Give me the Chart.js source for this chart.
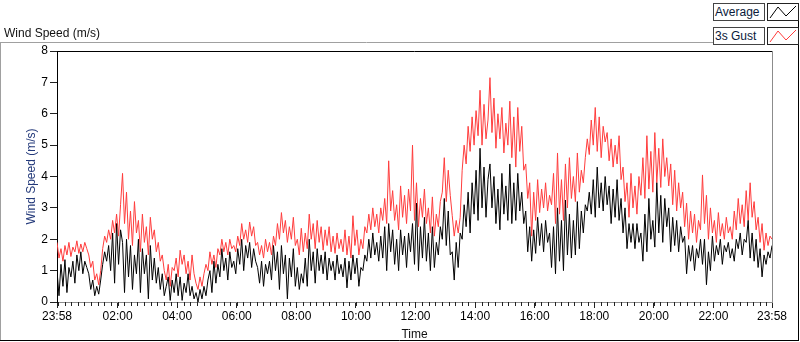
<!DOCTYPE html>
<html>
<head>
<meta charset="utf-8">
<script src="https://cdn.jsdelivr.net/npm/chart.js@4/dist/chart.umd.min.js"></script>
<style>
  html, body { margin: 0; padding: 0; background: #fff; }
  #wrap { position: relative; width: 800px; height: 342px; overflow: hidden; font-family: "Liberation Sans", Arial, sans-serif; }
  #c { position: absolute; left: 0; top: 0; }
  .panelTitle { position: absolute; left: 4px; top: 26px; font-size: 12px; color: #111; white-space: nowrap; }
  .lgBox { position: absolute; left: 713px; width: 49px; height: 16px; border: 1px solid #444; background: #fff; font-size: 12px; line-height: 16px; color: #0a1a3a; padding-left: 1px; box-sizing: content-box; white-space: nowrap; }
  .lgSw { position: absolute; left: 767px; width: 30px; height: 16px; border: 1px solid #222; background: #fff; }
</style>
</head>
<body>
<div id="wrap">
  <canvas id="c" width="800" height="342"></canvas>
  <div class="panelTitle">Wind Speed (m/s)</div>
  <div class="lgBox" style="top:3px;">Average</div>
  <div class="lgSw" style="top:3px;"><svg width="30" height="16"><polyline points="2,14 10,3 18,12 28,2" fill="none" stroke="#000" stroke-width="1"/></svg></div>
  <div class="lgBox" style="top:27px;">3s Gust</div>
  <div class="lgSw" style="top:27px;"><svg width="30" height="16"><polyline points="2,14 10,3 18,12 28,2" fill="none" stroke="#ff3c3c" stroke-width="1"/></svg></div>
</div>
<script>
// ---- data ----
const SAMPLE_MINUTES = 4;            // one sample every 4 minutes from 23:58
const tickMinutes = [0, 122, 242, 362, 482, 602, 722, 842, 962, 1082, 1202, 1322, 1440];
const tickLabels = ['23:58', '02:00', '04:00', '06:00', '08:00', '10:00', '12:00', '14:00', '16:00', '18:00', '20:00', '22:00', '23:58'];
const yTicks = [0, 1, 2, 3, 4, 5, 6, 7, 8];

const gust = [
  1.9, 1.4, 1.7, 1.3, 1.8, 1.5, 1.9, 1.45, 1.75, 1.6,
  1.95, 1.55, 1.85, 1.6, 1.9, 1.7, 1.5, 1.1, 1.3, 0.7,
  0.9, 0.55, 1.0, 1.7, 2.1, 1.9, 2.3, 2.0, 2.6, 2.2,
  2.8, 2.1, 3.1, 4.1, 2.5, 3.5, 2.0, 2.9, 1.8, 3.2,
  2.2, 2.6, 1.6, 2.8, 1.9, 2.4, 1.5, 2.7, 2.0, 2.3,
  1.6, 1.9, 1.3, 1.5, 1.0, 0.7, 1.2, 0.5, 1.1, 1.0,
  1.4, 0.8, 1.65, 1.2, 1.5, 0.9, 1.3, 0.7, 1.5, 0.9,
  0.6, 0.4, 0.8, 0.5, 0.9, 1.2, 1.0, 1.6, 1.2, 1.5,
  1.1, 1.7, 1.5, 2.0, 1.6, 1.9, 1.5, 2.0, 1.7, 1.8,
  1.6, 2.1, 1.8, 2.5, 2.0, 2.3, 1.9, 2.55, 2.1, 2.4,
  1.8, 1.9, 1.5, 1.8, 1.4, 2.0, 1.6, 1.9, 1.5, 2.1,
  1.8, 2.5, 2.0, 2.85, 2.2, 2.6, 1.9, 2.4, 2.0, 2.7,
  1.8, 2.0, 1.5, 2.35, 1.6, 2.2, 1.7, 2.8, 2.0, 2.5,
  1.7, 2.6, 1.9, 2.4, 1.65, 2.3, 1.8, 2.4, 1.6, 2.1,
  1.55, 2.2, 1.7, 2.0, 1.6, 2.3, 1.5, 2.1, 1.4, 2.75,
  1.8, 2.3, 1.5, 2.0, 1.7, 2.4, 2.2, 2.8, 2.3, 3.0,
  2.4, 2.8, 2.2, 3.0, 2.6, 3.3, 2.5, 4.5, 2.9, 3.55,
  2.6, 3.1, 2.3, 3.7, 2.7, 3.4, 2.5, 3.6, 2.9, 5.0,
  2.6, 3.8, 2.4, 3.3, 2.7, 3.6, 2.5, 3.0, 2.2, 3.35,
  2.1, 2.8, 2.4, 3.2, 3.5, 4.6, 3.2, 4.2, 3.4, 2.75,
  2.1, 2.6, 2.2, 2.7, 4.2, 5.0, 4.4, 5.6, 4.8, 5.9,
  5.0, 6.1, 5.3, 6.75, 5.0, 6.3, 5.2, 5.8, 7.15, 5.4,
  6.5, 4.9, 6.0, 5.2, 6.2, 4.75, 5.7, 5.0, 6.4, 4.6,
  5.9, 4.3, 6.2, 4.8, 5.6, 4.2, 4.4, 3.3, 3.8, 2.1,
  3.5, 2.6, 3.9, 2.85, 3.6, 3.0, 3.8, 2.9, 3.4, 3.1,
  4.1, 2.5, 4.75, 2.8, 3.9, 2.6, 4.4, 3.0, 4.6, 3.3,
  4.0, 3.2, 4.75, 3.5, 4.2, 3.8, 4.6, 5.2, 4.7, 5.8,
  5.0, 6.2, 4.8, 5.9, 4.6, 5.6, 5.1, 5.4, 4.5, 5.2,
  4.3, 5.0, 4.4, 5.3, 3.9, 4.3, 3.2, 3.8, 2.7, 4.1,
  3.0, 3.7, 2.8, 4.0, 3.4, 4.6, 3.3, 5.3, 3.6, 4.8,
  3.5, 5.4, 3.8, 4.9, 3.65, 5.2, 4.0, 4.6, 3.7, 4.4,
  3.1, 4.2, 2.9, 3.8, 3.0, 3.5, 2.4, 3.15, 2.0, 2.9,
  2.2, 2.8, 1.9, 2.6, 2.3, 4.05, 2.5, 3.4, 2.0, 3.0,
  2.2, 2.6, 1.9, 2.85, 2.1, 2.5, 2.0, 2.7, 2.2, 2.4,
  2.0, 2.9, 2.3, 3.3, 2.5, 3.1, 2.4, 3.55, 2.6, 3.8,
  2.7, 3.2, 2.3, 2.7, 1.9, 2.5, 1.65, 2.2, 1.8, 2.1,
  2.0
];

const average = [
  1.0, 0.2, 1.2, 0.5, 1.35, 0.3, 1.1, 0.8, 1.3, 0.6,
  1.5, 1.0, 1.6, 0.9, 1.3, 1.1, 0.9, 0.4, 0.7, 0.2,
  0.5, 0.25, 0.7, 1.2, 1.6, 1.3, 1.8, 1.0, 2.2, 0.6,
  2.5, 1.2, 2.3, 1.9, 0.3, 2.0, 0.8, 1.8, 0.4, 1.5,
  0.9, 2.0, 0.3, 1.7, 0.9, 1.5, 0.1, 1.8, 0.7, 1.4,
  0.6, 1.1, 0.4, 0.9, 0.2, 0.5, 0.8, 0.05, 0.7, 0.3,
  0.9, 0.2, 0.8, 0.05, 0.6, 0.3, 0.9, 0.2, 0.5, 0.1,
  0.3, 0.0, 0.4, 0.1, 0.5, 0.2, 0.7, 1.0, 0.3, 1.3,
  0.6, 1.2, 0.8, 1.7, 1.0, 1.4, 0.7, 1.6, 1.1, 1.3,
  0.9, 1.7, 1.2, 2.0, 1.0, 1.8, 1.4, 1.9, 1.1, 1.7,
  1.3, 1.1, 0.6, 1.3, 0.5, 1.2, 0.9, 1.3, 0.7, 1.8,
  1.0, 1.6, 0.4, 1.8, 0.9, 1.5, 0.1, 1.4, 0.8, 1.7,
  0.5, 1.1, 0.4, 0.9, 0.6, 1.4, 0.5, 2.0, 1.0, 1.6,
  0.6, 1.7, 1.0, 1.5, 0.9, 1.6, 0.7, 1.4, 1.0, 1.3,
  0.7, 1.5, 0.9, 1.2, 0.8, 1.4, 0.45, 1.3, 0.7, 1.5,
  0.9, 1.4, 0.5, 1.1, 1.0, 1.5, 1.3, 2.0, 1.4, 2.2,
  1.5, 1.9, 1.3, 2.1, 1.4, 2.4, 1.0, 2.5, 1.6, 2.3,
  1.2, 2.0, 1.0, 2.3, 1.5, 2.1, 1.1, 2.2, 1.6, 2.5,
  1.2, 3.15, 1.0, 2.4, 1.4, 2.7, 1.3, 2.2, 1.0, 2.4,
  1.1, 1.9, 1.5, 2.4, 2.0, 3.3, 1.8, 2.9, 1.5, 1.6,
  0.7, 1.9, 1.1, 2.2, 2.0, 3.1, 2.4, 3.5, 2.2, 3.8,
  2.8, 4.2, 2.6, 4.9, 3.0, 4.3, 2.7, 3.9, 4.4, 3.0,
  4.0, 2.5, 3.6, 2.3, 4.1, 2.8, 3.7, 2.6, 4.4, 2.5,
  3.8, 2.6, 4.1, 2.9, 3.5, 2.5, 2.9, 1.6, 2.4, 1.3,
  2.3, 1.55, 2.7, 1.8, 2.5, 1.6, 2.6, 1.9, 2.2, 1.1,
  2.4, 0.9, 3.0, 1.3, 2.6, 1.0, 3.25, 1.5, 2.8, 1.4,
  2.6, 1.5, 3.2, 1.7, 2.9, 2.2, 3.1, 2.9, 3.5, 2.8,
  3.9, 2.7, 4.3, 3.0, 3.8, 2.9, 4.0, 3.1, 3.7, 2.5,
  3.6, 2.7, 3.9, 2.6, 3.3, 2.2, 3.0, 1.7, 2.5, 1.9,
  2.5, 1.7, 2.5, 1.9, 2.2, 1.3, 2.8, 1.6, 3.3, 2.0,
  2.6, 1.75, 3.8, 2.2, 3.4, 1.9, 3.3, 2.4, 3.0, 1.6,
  2.7, 1.8, 2.6, 1.6, 2.4, 1.9, 2.1, 0.9, 1.8, 1.3,
  1.8, 1.0, 1.7, 1.4, 2.0, 1.2, 2.0, 0.55, 1.6, 1.0,
  2.1, 1.3, 1.8, 1.5, 2.0, 1.2, 1.8, 1.6, 1.9, 1.4,
  1.7, 1.3, 2.0, 1.7, 2.2, 1.5, 2.0, 1.9, 2.6, 1.4,
  2.2, 1.3, 2.0, 1.1, 1.7, 0.8, 1.5, 1.2, 1.6, 1.4,
  1.8
];

// ---- chart ----
Chart.defaults.font.family = '"Liberation Sans", Arial, sans-serif';
Chart.defaults.font.size = 12;
Chart.defaults.color = '#000';

const toPoints = arr => arr.map((v, i) => ({ x: i * SAMPLE_MINUTES, y: v }));

const framePlugin = {
  id: 'frame',
  beforeDraw(chart) {
    const c = chart.ctx;
    c.save();
    c.lineWidth = 1;
    c.strokeStyle = '#a0a0a0';
    c.beginPath(); c.moveTo(0, 42.5); c.lineTo(733, 42.5); c.stroke();
    c.beginPath(); c.moveTo(0.5, 42); c.lineTo(0.5, 341); c.stroke();
    c.strokeStyle = '#000';
    c.beginPath(); c.moveTo(0, 340.5); c.lineTo(799, 340.5); c.stroke();
    c.beginPath(); c.moveTo(798.5, 20); c.lineTo(798.5, 341); c.stroke();
    c.restore();
  },
  afterDraw(chart) {
    const c = chart.ctx, a = chart.chartArea, xs = chart.scales.x;
    c.save();
    c.lineWidth = 1;
    c.strokeStyle = '#000';
    c.beginPath(); c.moveTo(a.left, Math.floor(a.top) + 0.5); c.lineTo(a.right, Math.floor(a.top) + 0.5); c.stroke();
    c.strokeStyle = '#8c8c8c';
    c.beginPath(); c.moveTo(Math.floor(a.right) + 0.5, a.top); c.lineTo(Math.floor(a.right) + 0.5, a.bottom); c.stroke();
    c.strokeStyle = '#222';
    for (let k = 0; ; k++) {
      const t = 2 + k * 40 / 3;
      if (t > 1440) break;
      const px = Math.round(xs.getPixelForValue(t)) + 0.5;
      c.beginPath(); c.moveTo(px, a.bottom); c.lineTo(px, a.bottom + 4); c.stroke();
    }
    c.restore();
  }
};

new Chart(document.getElementById('c'), {
  type: 'line',
  data: {
    datasets: [
      { label: 'Average', data: toPoints(average), borderColor: '#000000', borderWidth: 1, pointRadius: 0, tension: 0, fill: false },
      { label: '3s Gust', data: toPoints(gust), borderColor: '#ff3c3c', borderWidth: 1, pointRadius: 0, tension: 0, fill: false }
    ]
  },
  options: {
    responsive: false,
    animation: false,
    devicePixelRatio: 1,
    layout: { padding: { top: 51, right: 28, left: 0, bottom: 0 } },
    plugins: { legend: { display: false }, tooltip: { enabled: false }, title: { display: false } },
    scales: {
      x: {
        type: 'linear', min: 0, max: 1440,
        afterBuildTicks: s => { s.ticks = tickMinutes.map(v => ({ value: v })); },
        afterFit: s => { s.height = 40; },
        ticks: { autoSkip: false, maxRotation: 0, padding: 1, color: '#000', callback: (v, i) => tickLabels[i] },
        grid: { drawOnChartArea: false, tickLength: 6, color: '#222' },
        border: { color: '#8c8c8c' },
        title: { display: true, text: 'Time', color: '#111', padding: { top: 0, bottom: 0 } }
      },
      y: {
        min: 0, max: 8,
        afterBuildTicks: s => { s.ticks = yTicks.map(v => ({ value: v })); },
        afterFit: s => { s.width = 57; },
        ticks: { padding: 2, color: '#000' },
        grid: { drawOnChartArea: false, tickLength: 7, color: '#222' },
        border: { color: '#000' },
        title: { display: true, text: 'Wind Speed (m/s)', color: '#23397a', padding: { top: 24, bottom: 0 } }
      }
    }
  },
  plugins: [framePlugin]
});
</script>
</body>
</html>
